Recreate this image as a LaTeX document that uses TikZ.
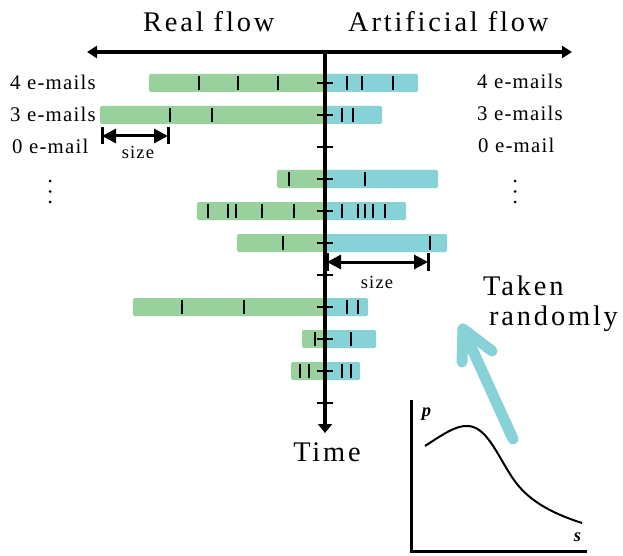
\documentclass[tikz,border=0pt]{standalone}
\usepackage{fontspec}
\setmainfont{Liberation Serif}[LetterSpace=10]
\newfontfamily\labelfont{Liberation Serif}[LetterSpace=6]
\usetikzlibrary{arrows.meta,calc,positioning}

\definecolor{realgreen}{RGB}{152,209,155}
\definecolor{artcyan}{RGB}{134,210,214}

\tikzset{
    bigtxt/.style={inner sep=0pt,font=\fontsize{28.4}{30}\selectfont},
    midtxt/.style={inner sep=0pt,font=\labelfont\fontsize{20.8}{24}\selectfont},
    smalltxt/.style={inner sep=0pt,font=\labelfont\fontsize{18.5}{20}\selectfont},
    realbar/.style={fill=realgreen,rounded corners=1.5pt},
    artbar/.style={fill=artcyan,rounded corners=1.5pt},
    mailtick/.style={black,line width=1.4pt},
    axistick/.style={black,line width=1.2pt},
    sizearrow/.style={line width=3pt,{Triangle[length=14pt,width=14pt]}-{Triangle[length=14pt,width=14pt]}},
    sizebar/.style={line width=3pt},
    pickarrow/.style={artcyan,line width=11pt,line cap=round,line join=round}
}

\begin{document}
\begin{tikzpicture}[x=1pt,y=-1pt]

    \useasboundingbox (0,0) rectangle (623,556);

    % Draw the bars of both flows, with one tick for each e-mail.
    \foreach \row/\gx/\bx/\gt/\bt in {0/149/418/{199,238,278}/{347,362,393},
                                      1/100/382/{170,212}/{342,353},
                                      3/277/438/{289}/{365},
                                      4/197/406/{208,228,236,262,294}/{342,358,365,373,385},
                                      5/237/447/{283}/{430},
                                      7/133/368/{182,244}/{347,358},
                                      8/302/376/{315}/{351},
                                      9/291/360/{300,309}/{342,351}}
    {
        \pgfmathsetmacro\yc{83+32*\row}
        \fill[realbar] (\gx,{\yc-9}) rectangle (325,{\yc+9});
        \fill[artbar] (325,{\yc-9}) rectangle (\bx,{\yc+9});
        \foreach \t in \gt
            \draw[mailtick] (\t,{\yc-7}) -- (\t,{\yc+7});
        \foreach \t in \bt
            \draw[mailtick] (\t,{\yc-7}) -- (\t,{\yc+7});
    }

    % Draw time-axis points.
    \foreach \k in {0,...,10}
        \draw[axistick] (317,{83+32*\k}) -- (333,{83+32*\k});

    % Draw flow axis and time axis.
    \coordinate (flowL) at (87,52);
    \coordinate (flowR) at (572,52);
    \coordinate (timeTop) at (325,52);
    \coordinate (timeEnd) at (325,433);
    \draw[line width=3.5pt,{Triangle[length=10pt,width=12pt]}-{Triangle[length=10pt,width=12pt]}] (flowL) -- (flowR);
    \draw[line width=4pt,-{Triangle[length=9pt,width=14pt]}] (timeTop) -- (timeEnd);

    \node (real) at (143,32) [bigtxt,anchor=base west]{Real flow};
    \node (artificial) at (348,32) [bigtxt,anchor=base west]{Artificial flow};
    \node (time) at (327,461) [bigtxt,anchor=base]{Time};

    % Draw e-mail labels.
    \node (mailL4) at (10,90) [midtxt,anchor=base west]{4 e-mails};
    \node (mailL3) at (10,122) [midtxt,anchor=base west]{3 e-mails};
    \node (mailL0) at (12,154) [midtxt,anchor=base west]{0 e-mail};
    \node (mailR4) at (477,89) [midtxt,anchor=base west]{4 e-mails};
    \node (mailR3) at (477,121) [midtxt,anchor=base west]{3 e-mails};
    \node (mailR0) at (478,153) [midtxt,anchor=base west]{0 e-mail};

    % Draw the dots for the rows left out.
    \foreach \D in {181,191.5,202}
    {
        \fill[black] (50,\D) circle [radius=1.5pt];
        \fill[black] (515,\D) circle [radius=1.5pt];
    }

    % Draw size markers.
    \coordinate (sizeA) at (102,136);
    \coordinate (sizeB) at (168,136);
    \draw[sizearrow] (sizeA) -- (sizeB);
    \draw[sizebar] ($(sizeA)+(0,-8.5)$) -- ($(sizeA)+(0,8.5)$);
    \draw[sizebar] ($(sizeB)+(0,-8.5)$) -- ($(sizeB)+(0,8.5)$);
    \node (sizeTxtA) at (138,159) [smalltxt,anchor=base]{size};

    \coordinate (sizeC) at (327,262);
    \coordinate (sizeD) at (428,262);
    \draw[sizearrow] (sizeC) -- (sizeD);
    \draw[sizebar] ($(sizeC)+(0,-9)$) -- ($(sizeC)+(0,9)$);
    \draw[sizebar] ($(sizeD)+(0,-9)$) -- ($(sizeD)+(0,9)$);
    \node (sizeTxtB) at (377,288) [smalltxt,anchor=base]{size};

    % Draw size distribution.
    \coordinate (distTop) at (411,400);
    \coordinate (distO) at (411,551);
    \coordinate (distEnd) at (587,551);
    \draw[line width=3pt] (distTop) -- (distO) -- (distEnd);
    \node (pLab) at (427,414) [smalltxt]{\textbf{\textit{p}}};
    \node (sLab) at (578,537) [smalltxt]{\textbf{\textit{s}}};
    \draw[line width=2pt] (425,446) .. controls (442,435) and (456,425) .. (468,426)
        .. controls (486,427) and (496,452) .. (510,474)
        .. controls (524,497) and (545,511) .. (582,523);

    % Draw random pick.
    \coordinate (pickTail) at (513,439);
    \coordinate (pickTip) at (463,329);
    \coordinate (barbL) at (462,362);
    \coordinate (barbR) at (492,351);
    \draw[pickarrow] (pickTail) -- (pickTip);
    \draw[pickarrow] (barbL) -- (pickTip) -- (barbR);
    \node (taken) at (483,295) [bigtxt,anchor=base west]{Taken};
    \node (randomly) at (489,325) [bigtxt,anchor=base west]{randomly};

\end{tikzpicture}
\end{document}
